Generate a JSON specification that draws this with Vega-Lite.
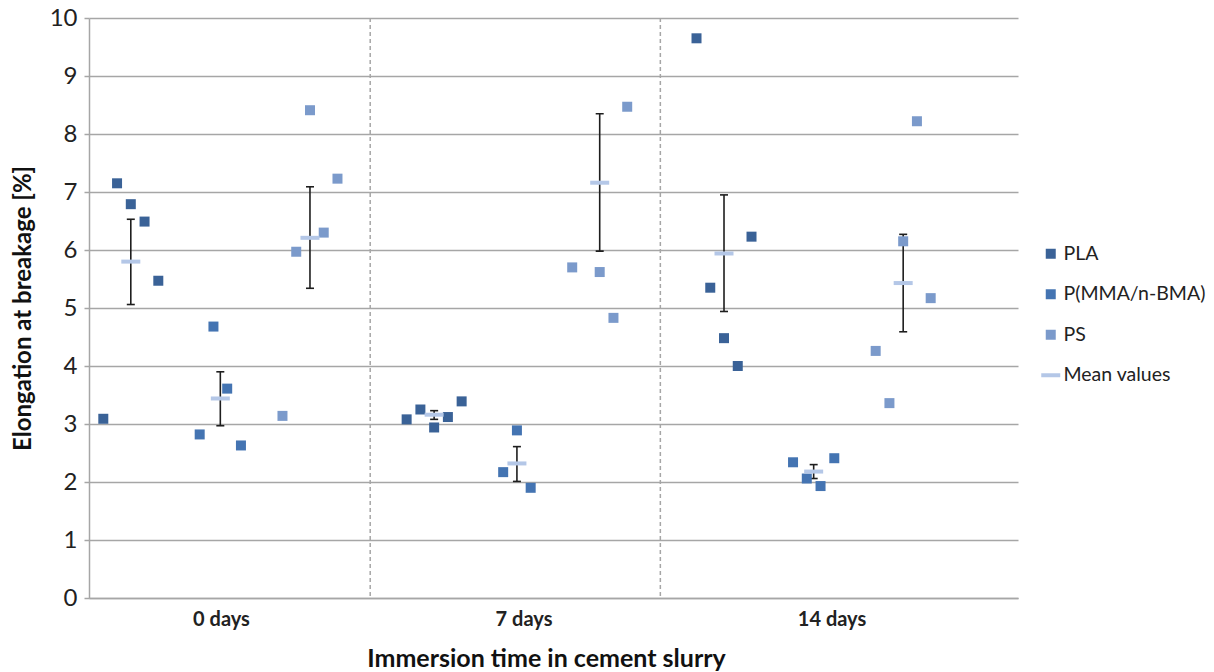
{
  "$schema": "https://vega.github.io/schema/vega-lite/v6.json",
  "width": 929,
  "height": 580,
  "autosize": {"type": "none"},
  "padding": {"left": 89, "top": 18, "right": 196, "bottom": 74},
  "background": "white",
  "config": {
    "view": {"stroke": null},
    "font": "Lato",
    "axis": {
      "domainColor": "#a6a6a6", "domainWidth": 1.5,
      "gridColor": "#a6a6a6", "gridWidth": 1.5,
      "tickColor": "#a6a6a6", "tickWidth": 1.5,
      "labelFont": "Lato", "titleFont": "Lato",
      "labelColor": "#222222", "titleColor": "#111111"
    },
    "legend": {
      "orient": "none", "legendX": 952, "legendY": 226,
      "labelFontSize": 19.5, "labelFont": "Lato", "labelColor": "#222222",
      "symbolSize": 100, "rowPadding": 19.5, "labelOffset": 3, "padding": 0,
      "symbolStrokeWidth": 0
    }
  },
  "datasets": {
    "obs": [
      {"series": "PLA", "group": "0 days", "pos": 1.04, "val": 3.09},
      {"series": "PLA", "group": "0 days", "pos": 2.04, "val": 7.15},
      {"series": "PLA", "group": "0 days", "pos": 3.04, "val": 6.79},
      {"series": "PLA", "group": "0 days", "pos": 4.04, "val": 6.49},
      {"series": "PLA", "group": "0 days", "pos": 5.04, "val": 5.47},
      {"series": "P(MMA/n-BMA)", "group": "0 days", "pos": 8.05, "val": 2.82},
      {"series": "P(MMA/n-BMA)", "group": "0 days", "pos": 9.05, "val": 4.68},
      {"series": "P(MMA/n-BMA)", "group": "0 days", "pos": 10.05, "val": 3.61},
      {"series": "P(MMA/n-BMA)", "group": "0 days", "pos": 11.05, "val": 2.63},
      {"series": "PS", "group": "0 days", "pos": 14.07, "val": 3.14},
      {"series": "PS", "group": "0 days", "pos": 15.07, "val": 5.97},
      {"series": "PS", "group": "0 days", "pos": 16.07, "val": 8.41},
      {"series": "PS", "group": "0 days", "pos": 17.07, "val": 6.30},
      {"series": "PS", "group": "0 days", "pos": 18.07, "val": 7.23},
      {"series": "PLA", "group": "7 days", "pos": 23.1, "val": 3.08},
      {"series": "PLA", "group": "7 days", "pos": 24.1, "val": 3.25},
      {"series": "PLA", "group": "7 days", "pos": 25.1, "val": 2.94},
      {"series": "PLA", "group": "7 days", "pos": 26.1, "val": 3.12},
      {"series": "PLA", "group": "7 days", "pos": 27.1, "val": 3.39},
      {"series": "P(MMA/n-BMA)", "group": "7 days", "pos": 30.12, "val": 2.17},
      {"series": "P(MMA/n-BMA)", "group": "7 days", "pos": 31.12, "val": 2.89},
      {"series": "P(MMA/n-BMA)", "group": "7 days", "pos": 32.12, "val": 1.90},
      {"series": "PS", "group": "7 days", "pos": 35.14, "val": 5.70},
      {"series": "PS", "group": "7 days", "pos": 37.14, "val": 5.62},
      {"series": "PS", "group": "7 days", "pos": 38.14, "val": 4.83},
      {"series": "PS", "group": "7 days", "pos": 39.14, "val": 8.47},
      {"series": "PLA", "group": "14 days", "pos": 44.18, "val": 9.65},
      {"series": "PLA", "group": "14 days", "pos": 45.18, "val": 5.35},
      {"series": "PLA", "group": "14 days", "pos": 46.18, "val": 4.48},
      {"series": "PLA", "group": "14 days", "pos": 47.18, "val": 4.00},
      {"series": "PLA", "group": "14 days", "pos": 48.18, "val": 6.23},
      {"series": "P(MMA/n-BMA)", "group": "14 days", "pos": 51.2, "val": 2.34},
      {"series": "P(MMA/n-BMA)", "group": "14 days", "pos": 52.2, "val": 2.06},
      {"series": "P(MMA/n-BMA)", "group": "14 days", "pos": 53.2, "val": 1.93},
      {"series": "P(MMA/n-BMA)", "group": "14 days", "pos": 54.2, "val": 2.41},
      {"series": "PS", "group": "14 days", "pos": 57.21, "val": 4.26},
      {"series": "PS", "group": "14 days", "pos": 58.21, "val": 3.36},
      {"series": "PS", "group": "14 days", "pos": 59.21, "val": 6.15},
      {"series": "PS", "group": "14 days", "pos": 60.21, "val": 8.22},
      {"series": "PS", "group": "14 days", "pos": 61.21, "val": 5.17},
      {"series": "Mean values", "of": "PLA", "group": "0 days", "pos": 3.04, "val": 5.80, "lo": 5.06, "hi": 6.53},
      {"series": "Mean values", "of": "P(MMA/n-BMA)", "group": "0 days", "pos": 9.55, "val": 3.44, "lo": 2.97, "hi": 3.90},
      {"series": "Mean values", "of": "PS", "group": "0 days", "pos": 16.07, "val": 6.21, "lo": 5.34, "hi": 7.09},
      {"series": "Mean values", "of": "PLA", "group": "7 days", "pos": 25.1, "val": 3.16, "lo": 3.08, "hi": 3.23},
      {"series": "Mean values", "of": "P(MMA/n-BMA)", "group": "7 days", "pos": 31.12, "val": 2.32, "lo": 2.01, "hi": 2.61},
      {"series": "Mean values", "of": "PS", "group": "7 days", "pos": 37.14, "val": 7.16, "lo": 5.98, "hi": 8.35},
      {"series": "Mean values", "of": "PLA", "group": "14 days", "pos": 46.18, "val": 5.94, "lo": 4.94, "hi": 6.95},
      {"series": "Mean values", "of": "P(MMA/n-BMA)", "group": "14 days", "pos": 52.7, "val": 2.18, "lo": 2.06, "hi": 2.30},
      {"series": "Mean values", "of": "PS", "group": "14 days", "pos": 59.21, "val": 5.43, "lo": 4.59, "hi": 6.27}
    ],
    "dividers": [{"pos": 20.45}, {"pos": 41.55}]
  },
  "data": {"name": "obs"},
  "encoding": {
    "x": {
      "field": "pos", "type": "quantitative",
      "scale": {"domain": [0, 67.56], "nice": false, "zero": false},
      "title": "Immersion time in cement slurry",
      "axis": {
        "grid": false, "ticks": false,
        "values": [9.6, 31.6, 54.0],
        "labelExpr": "datum.value < 20 ? '0 days' : datum.value < 40 ? '7 days' : '14 days'",
        "labelFontSize": 20, "labelFontWeight": "bold", "labelPadding": 11, "labelFlush": false,
        "titleFontSize": 25, "titleFontWeight": "bold", "titlePadding": 17,
        "titleX": 457, "titleAlign": "center"
      }
    }
  },
  "layer": [
    {
      "data": {"name": "dividers"},
      "mark": {"type": "rule", "stroke": "#a6a6a6", "strokeWidth": 1.5, "strokeDash": [4, 3]},
      "encoding": {}
    },
    {
      "transform": [{"filter": "datum.series === 'Mean values'"}],
      "mark": {"type": "rule", "stroke": "#1e1e1e", "strokeWidth": 1.6},
      "encoding": {
        "y": {
          "field": "lo", "type": "quantitative",
          "scale": {"domain": [0, 10], "nice": false},
          "title": "Elongation at breakage [%]",
          "axis": {
            "values": [0, 1, 2, 3, 4, 5, 6, 7, 8, 9, 10], "format": "d",
            "tickSize": 5, "labelFontSize": 24, "labelPadding": 7,
            "titleFontSize": 24, "titleFontWeight": "bold", "titlePadding": 14,
            "grid": true
          }
        },
        "y2": {"field": "hi"}
      }
    },
    {
      "transform": [{"filter": "datum.series === 'Mean values'"}],
      "mark": {"type": "tick", "orient": "horizontal", "size": 8, "thickness": 1.6, "color": "#1e1e1e", "opacity": 1},
      "encoding": {
        "y": {"field": "lo", "type": "quantitative", "title": "Elongation at breakage [%]"}
      }
    },
    {
      "transform": [{"filter": "datum.series === 'Mean values'"}],
      "mark": {"type": "tick", "orient": "horizontal", "size": 8, "thickness": 1.6, "color": "#1e1e1e", "opacity": 1},
      "encoding": {
        "y": {"field": "hi", "type": "quantitative", "title": "Elongation at breakage [%]"}
      }
    },
    {
      "mark": {"type": "point", "filled": true, "opacity": 1, "size": 100},
      "encoding": {
        "y": {"field": "val", "type": "quantitative", "title": "Elongation at breakage [%]"},
        "color": {
          "field": "series", "type": "nominal",
          "scale": {"domain": ["PLA", "P(MMA/n-BMA)", "PS", "Mean values"], "range": ["#3a6297", "#4474b2", "#7b9acb", "#b4c7e7"]},
          "legend": {"title": null}
        },
        "shape": {
          "field": "series", "type": "nominal",
          "scale": {"domain": ["PLA", "P(MMA/n-BMA)", "PS", "Mean values"], "range": ["square", "square", "square", "M-1.9,-0.4L1.9,-0.4L1.9,0.4L-1.9,0.4Z"]},
          "legend": {"title": null}
        }
      }
    }
  ]
}
